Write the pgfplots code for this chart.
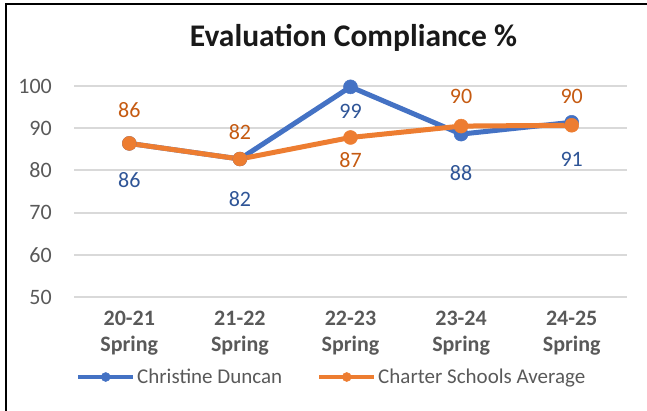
\documentclass[border=0pt]{standalone}
\usepackage{pgfplots}
\pgfplotsset{compat=1.18}
\usepackage{pgfplotstable}
\usepackage{fontspec}
\setmainfont{Carlito}
\definecolor{cblue}{HTML}{4472C4}
\definecolor{corange}{HTML}{ED7D31}
\definecolor{lblue}{HTML}{2F5597}
\definecolor{lorange}{HTML}{C55A11}
\definecolor{tgray}{HTML}{595959}
\definecolor{ggray}{HTML}{D9D9D9}

\pgfplotstableread{
x y lab dy
0 86.4 86 -36.7
1 82.7 82 -40
2 99.8 99 -24.7
3 88.6 88 -38.7
4 91.4 91 -36.7
}\bluedata

\pgfplotstableread{
x y lab dy
0 86.4 86 33.3
1 82.7 82 27
2 87.8 87 -22.7
3 90.5 90 29.3
4 90.7 90 28.5
}\orangedata

\begin{document}
\begin{tikzpicture}
\useasboundingbox (0,0) rectangle (647bp,411bp);
\draw[line width=2bp, black] (6bp,0) -- (6bp,407bp) -- (647bp,407bp);
\begin{axis}[
  at={(74bp,114bp)}, anchor=south west,
  scale only axis, width=553bp, height=211bp,
  xmin=-0.5, xmax=4.5, ymin=50, ymax=100,
  clip=false,
  axis line style={draw=none},
  major tick length=0pt,
  ytick={50,60,...,100},
  ymajorgrids, grid style={ggray, line width=2bp},
  xtick={0,1,2,3,4},
  xticklabels={{20-21\\Spring},{21-22\\Spring},{22-23\\Spring},{23-24\\Spring},{24-25\\Spring}},
  /pgf/number format/assume math mode=true,
  yticklabel style={font=\fontsize{22bp}{26bp}\selectfont, text=tgray, inner sep=0pt, xshift=-22bp},
  xticklabel style={font=\bfseries\fontsize{22bp}{26bp}\selectfont, text=tgray, align=center, inner sep=0pt, yshift=-14bp},
  title={Evaluation Compliance \%},
  title style={font=\bfseries\fontsize{31.5bp}{36bp}\selectfont, text=black!90, at={(rel axis cs:0.5,1)}, anchor=base, yshift=34bp, xshift=3bp, inner sep=0pt},
  legend columns=2,
  legend style={at={(rel axis cs:0,0)}, anchor=west, xshift=2bp, yshift=-80bp, draw=none, fill=none, inner sep=0pt,
    font=\fontsize{21bp}{25bp}\selectfont, text=tgray,
    /tikz/every even column/.append style={column sep=33bp}},
  legend image code/.code={\draw[mark repeat=2,mark phase=2,#1, mark size=4.5bp, line width=4bp] plot coordinates {(0bp,0bp) (27.5bp,0bp) (55bp,0bp)};},
  nodes near coords,
  point meta=explicit symbolic,
  visualization depends on={\thisrow{dy}\as\dy},
]
\addplot[color=cblue, line width=5bp, mark=*, mark size=7bp, mark options={fill=cblue, draw=cblue, line width=0.5bp},
  every node near coord/.append style={anchor=center, yshift=\dy bp, font=\fontsize{22bp}{26bp}\selectfont, text=lblue}]
  table[x=x, y=y, meta=lab] {\bluedata};
\addlegendentry{Christine Duncan}
\addplot[color=corange, line width=5bp, mark=*, mark size=7bp, mark options={fill=corange, draw=corange, line width=0.5bp},
  every node near coord/.append style={anchor=center, yshift=\dy bp, font=\fontsize{22bp}{26bp}\selectfont, text=lorange}]
  table[x=x, y=y, meta=lab] {\orangedata};
\addlegendentry{Charter Schools Average}
\end{axis}
\end{tikzpicture}
\end{document}
